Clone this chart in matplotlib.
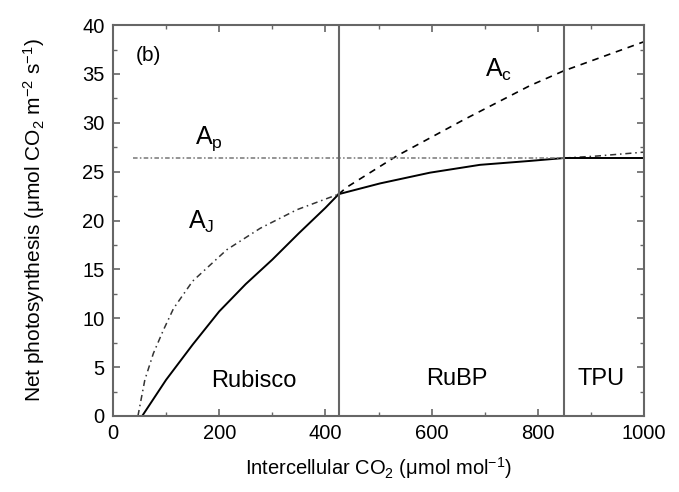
import matplotlib
matplotlib.use("Agg")
import matplotlib.pyplot as plt
from matplotlib.ticker import MultipleLocator

plt.rcParams['font.family'] = ['Liberation Sans', 'DejaVu Sans']
plt.rcParams['mathtext.fontset'] = 'custom'
plt.rcParams['mathtext.rm'] = 'Liberation Sans'
plt.rcParams['mathtext.it'] = 'Liberation Sans:italic'
plt.rcParams['mathtext.default'] = 'regular'

# Rubisco-limited rate Ac (solid below transition, dashed above)
ci_c_solid = [55, 100, 150, 200, 250, 300, 350, 400, 425]
ac_solid = [0.0, 3.7, 7.3, 10.7, 13.5, 16.0, 18.7, 21.3, 22.7]
ci_c_dash = [425, 440, 534, 660, 785, 848, 1000]
ac_dash = [22.7, 23.4, 26.6, 30.3, 33.8, 35.3, 38.3]

# RuBP-regeneration-limited rate Aj
ci_j_low = [47, 60, 76, 95, 114, 150, 214, 277, 346, 425]
aj_low = [0.0, 3.7, 6.4, 8.8, 11.0, 13.8, 17.0, 19.2, 21.1, 22.7]
ci_j_mid = [425, 503, 597, 691, 785, 850]
aj_mid = [22.7, 23.8, 24.9, 25.7, 26.1, 26.4]
ci_j_high = [850, 911, 1000]
aj_high = [26.4, 26.6, 27.0]

# TPU-limited rate Ap
ci_p = [38, 850]
ap_line = [26.4, 26.4]
ci_p_solid = [850, 1000]
ap_solid = [26.4, 26.4]

# transition points
transitions = [425, 850]

fig = plt.figure(figsize=(6.79, 4.92), dpi=100)
ax = fig.add_axes([0.1664, 0.1545, 0.7821, 0.7945])

gray = '#666666'
ax.plot(ci_c_solid, ac_solid, color='black', lw=1.4)
ax.plot(ci_c_dash, ac_dash, color='black', lw=1.2, ls=(0, (4, 3.5)))
ax.plot(ci_j_low, aj_low, color='#333333', lw=1.1, ls=(0, (4, 2.5, 1, 2.5)))
ax.plot(ci_j_mid, aj_mid, color='black', lw=1.4)
ax.plot(ci_j_high, aj_high, color='#333333', lw=1.1, ls=(0, (4, 2.5, 1, 2.5)))
ax.plot(ci_p, ap_line, color='#777777', lw=1.1, ls=(0, (3, 1.5, 1, 1.5)))
ax.plot(ci_p_solid, ap_solid, color='black', lw=1.4)
for t in transitions:
    ax.axvline(t, color=gray, lw=1.5)

ax.set_xlim(0, 1000)
ax.set_ylim(0, 40)
ax.xaxis.set_major_locator(MultipleLocator(200))
ax.xaxis.set_minor_locator(MultipleLocator(100))
ax.yaxis.set_major_locator(MultipleLocator(5))
ax.yaxis.set_minor_locator(MultipleLocator(2.5))
ax.tick_params(which='both', direction='in', top=True, right=True, color=gray, labelsize=14.5, pad=6)
ax.tick_params(which='major', length=5, width=1.2)
ax.tick_params(which='minor', length=3, width=1.0)
for s in ax.spines.values():
    s.set_color(gray)
    s.set_linewidth(1.5)

ax.set_xlabel('Intercellular CO$_2$ (μmol mol$^{-1}$)', fontsize=14.5)
ax.set_ylabel('Net photosynthesis (μmol CO$_2$ m$^{-2}$ s$^{-1}$)', fontsize=15)
ax.xaxis.set_label_coords(0.5, -0.1)
ax.yaxis.set_label_coords(-0.125, 0.5)

ax.text(43, 36.9, '(b)', fontsize=15, va='center', ha='left')
ax.text(155, 28.4, 'A$_p$', fontsize=18, va='center', ha='left')
ax.text(141, 19.9, 'A$_J$', fontsize=18, va='center', ha='left')
ax.text(700, 35.4, 'A$_c$', fontsize=18, va='center', ha='left')
ax.text(265, 3.6, 'Rubisco', fontsize=17, va='center', ha='center')
ax.text(648, 3.8, 'RuBP', fontsize=17, va='center', ha='center')
ax.text(919, 3.8, 'TPU', fontsize=17, va='center', ha='center')

fig.savefig('out.png', dpi=100)
